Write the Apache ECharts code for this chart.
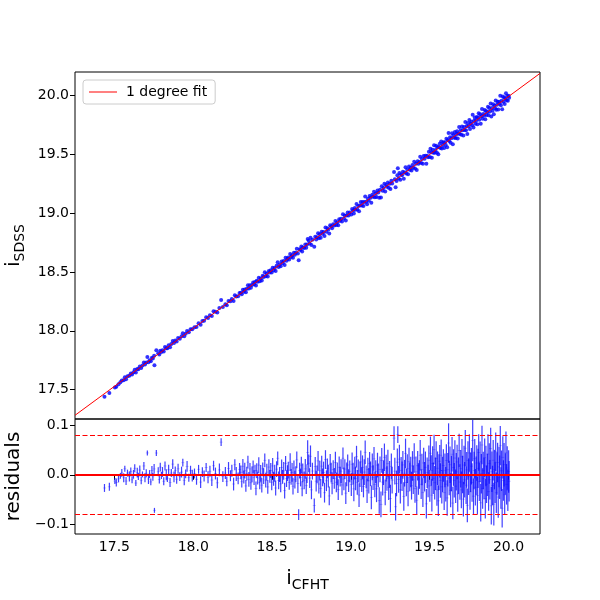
<!DOCTYPE html>
<html>
<head>
<meta charset="utf-8">
<script src="https://cdn.jsdelivr.net/npm/echarts@6/dist/echarts.min.js"></script>
<style>
html,body{margin:0;padding:0;background:#fff;}
#chart{width:600px;height:600px;}
</style>
</head>
<body>
<div id="chart"></div>
<script>
const iCFHT = [
17.437,17.468,
17.503,17.512,17.526,17.538,17.547,17.559,17.566,17.574,17.583,17.595,
17.604,17.612,17.621,17.629,17.636,17.645,17.652,17.661,17.670,17.678,17.687,17.694,
17.702,17.709,17.716,17.723,17.731,17.738,17.744,17.752,17.766,17.754,17.778,17.785,17.791,17.798,
17.805,17.813,17.821,17.829,17.836,17.844,17.853,17.861,17.870,17.878,17.886,17.895,
17.904,17.915,17.926,17.934,17.943,17.952,17.961,17.972,17.983,17.994,
18.008,18.021,18.034,18.047,18.058,18.069,18.082,18.094,
18.106,18.118,18.129,18.141,18.153,18.166,18.177,18.188,
18.204,18.213,18.224,18.236,18.245,18.256,18.264,18.273,18.285,18.294,
18.302,18.308,18.315,18.321,18.327,18.334,18.340,18.347,18.353,18.360,18.366,18.373,18.380,18.386,18.392,18.398,
18.403,18.409,18.416,18.422,18.428,18.435,18.441,18.447,18.454,18.460,18.467,18.473,18.480,18.486,18.492,18.498,
18.504,18.510,18.517,18.523,18.529,18.536,18.542,18.548,18.555,18.561,18.567,18.574,18.580,18.586,18.592,18.598,
18.603,18.609,18.615,18.621,18.627,18.633,18.639,18.645,18.651,18.657,18.664,18.669,18.675,18.681,18.686,18.691,18.695,
18.704,18.711,18.717,18.722,18.726,18.733,18.739,18.744,18.750,18.756,18.768,18.774,18.780,18.786,18.792,18.797,
18.803,18.809,18.815,18.821,18.827,18.833,18.839,18.845,18.851,18.857,18.863,18.869,18.875,18.881,18.888,18.895,
18.902,18.908,18.914,18.920,18.926,18.932,18.938,18.944,18.950,18.956,18.962,18.968,18.974,18.980,18.986,18.993,
19.003,19.008,19.014,19.019,19.025,19.030,19.036,19.041,19.047,19.052,19.058,19.063,19.069,19.074,19.080,19.085,19.091,19.097,
19.103,19.108,19.114,19.119,19.125,19.130,19.136,19.141,19.147,19.152,19.158,19.163,19.169,19.174,19.180,19.185,19.191,19.196,
19.202,19.207,19.213,19.218,19.224,19.229,19.235,19.240,19.246,19.251,19.257,19.262,19.274,19.279,19.284,19.290,19.295,19.298,
19.303,19.308,19.314,19.319,19.325,19.330,19.336,19.341,19.347,19.352,19.358,19.363,19.369,19.374,19.380,19.385,19.391,19.396,
19.402,19.407,19.413,19.418,19.424,19.429,19.435,19.440,19.446,19.451,19.457,19.462,19.468,19.473,19.479,19.484,19.490,19.495,
19.501,19.505,19.510,19.514,19.519,19.523,19.528,19.532,19.537,19.541,19.546,19.550,19.555,19.559,19.564,19.568,19.573,19.577,19.582,19.587,19.592,19.597,
19.602,19.606,19.611,19.615,19.620,19.624,19.629,19.633,19.638,19.642,19.647,19.651,19.656,19.660,19.665,19.669,19.674,19.678,19.683,19.687,19.692,19.697,
19.701,19.705,19.709,19.714,19.718,19.722,19.726,19.731,19.735,19.739,19.743,19.747,19.752,19.756,19.760,19.765,19.769,19.773,19.778,19.782,19.786,19.790,19.795,19.799,
19.803,19.807,19.811,19.815,19.820,19.824,19.828,19.832,19.836,19.840,19.845,19.849,19.853,19.857,19.861,19.866,19.870,19.874,19.878,19.882,19.887,19.891,19.895,19.899,
19.903,19.907,19.911,19.915,19.919,19.923,19.927,19.931,19.935,19.940,19.944,19.948,19.952,19.956,19.960,19.964,19.968,19.972,19.976,19.980,19.984,19.988,19.992,19.996,
20.001,20.004
];
const iSDSS = [
17.439,17.472,
17.518,17.524,17.545,17.563,17.578,17.580,17.605,17.588,17.613,17.618,
17.637,17.628,17.648,17.668,17.645,17.675,17.674,17.696,17.684,17.704,17.730,17.713,
17.730,17.778,17.732,17.749,17.741,17.771,17.764,17.788,17.834,17.706,17.808,17.799,17.830,17.820,
17.834,17.823,17.862,17.852,17.852,17.877,17.860,17.887,17.914,17.896,17.917,17.908,
17.938,17.933,17.953,17.980,17.953,17.975,17.999,17.987,18.012,18.013,
18.031,18.032,18.065,18.052,18.083,18.086,18.116,18.108,
18.132,18.126,18.166,18.162,18.155,18.194,18.261,18.202,
18.225,18.217,18.254,18.251,18.270,18.254,18.301,18.291,18.294,18.321,
18.323,18.310,18.348,18.332,18.351,18.327,18.358,18.388,18.359,18.387,18.365,18.389,18.411,18.395,18.415,18.385,
18.426,18.417,18.450,18.421,18.445,18.428,18.467,18.458,18.497,18.463,18.486,18.462,18.509,18.496,18.514,18.496,
18.535,18.515,18.533,18.509,18.553,18.582,18.543,18.561,18.549,18.588,18.575,18.594,18.560,18.621,18.596,18.613,
18.624,18.605,18.652,18.628,18.643,18.621,18.664,18.646,18.663,18.698,18.657,18.599,18.694,18.686,18.716,18.673,18.709,
18.703,18.733,18.705,18.734,18.781,18.766,18.742,18.791,18.729,18.773,18.715,18.800,18.776,18.796,18.829,18.787,
18.820,18.790,18.841,18.824,18.840,18.805,18.878,18.841,18.872,18.862,18.828,18.898,18.887,18.871,18.906,18.895,
18.934,18.900,18.923,18.897,18.948,18.935,18.952,18.930,18.990,18.954,18.980,18.937,18.981,19.006,18.980,19.006,
18.989,19.035,19.022,18.996,19.044,19.028,19.078,19.031,19.060,19.016,19.064,19.094,19.064,19.094,19.061,19.095,19.141,19.097,
19.075,19.123,19.106,19.146,19.131,19.088,19.156,19.139,19.183,19.136,19.168,19.138,19.192,19.176,19.131,19.199,19.134,19.228,
19.190,19.214,19.251,19.185,19.240,19.224,19.260,19.217,19.249,19.205,19.276,19.253,19.350,19.288,19.221,19.274,19.322,19.381,
19.295,19.341,19.285,19.329,19.323,19.351,19.293,19.345,19.391,19.337,19.371,19.330,19.396,19.370,19.386,19.363,19.409,19.386,
19.436,19.379,19.419,19.366,19.442,19.420,19.435,19.479,19.426,19.461,19.420,19.485,19.463,19.487,19.419,19.487,19.476,19.523,
19.477,19.547,19.517,19.471,19.540,19.514,19.577,19.514,19.537,19.572,19.513,19.561,19.500,19.562,19.589,19.554,19.610,19.550,19.580,19.603,19.553,19.603,
19.580,19.632,19.561,19.622,19.681,19.614,19.646,19.598,19.637,19.680,19.586,19.662,19.641,19.690,19.638,19.671,19.696,19.635,19.677,19.732,19.673,19.705,
19.666,19.737,19.705,19.660,19.733,19.707,19.775,19.705,19.740,19.672,19.767,19.738,19.791,19.716,19.760,19.777,19.748,19.837,19.729,19.785,19.813,19.759,19.787,19.817,
19.755,19.814,19.850,19.795,19.840,19.761,19.824,19.886,19.802,19.842,19.831,19.877,19.798,19.868,19.835,19.859,19.905,19.833,19.894,19.865,19.933,19.821,19.894,19.870,
19.925,19.840,19.914,19.892,19.958,19.879,19.922,19.948,19.882,19.948,19.931,19.999,19.917,19.956,19.884,19.991,19.948,19.984,19.927,19.973,20.020,19.960,19.997,19.956,
19.999,19.982
];
const iErr = [
0.008,0.008,
0.006,0.008,0.007,0.006,0.008,0.009,0.006,0.008,0.007,0.010,
0.008,0.007,0.009,0.008,0.006,0.010,0.007,0.009,0.008,0.006,0.008,0.009,
0.008,0.005,0.010,0.008,0.007,0.009,0.008,0.010,0.006,0.005,0.009,0.008,0.009,0.007,
0.010,0.008,0.009,0.011,0.008,0.010,0.009,0.008,0.010,0.011,0.008,0.009,
0.010,0.009,0.011,0.008,0.010,0.009,0.011,0.008,0.010,0.012,
0.010,0.011,0.009,0.012,0.010,0.011,0.009,0.012,
0.011,0.012,0.010,0.012,0.011,0.013,0.008,0.011,
0.012,0.010,0.013,0.011,0.012,0.013,0.011,0.014,0.012,0.013,
0.014,0.012,0.015,0.013,0.016,0.012,0.014,0.013,0.015,0.012,0.014,0.016,0.013,0.015,0.012,0.014,
0.015,0.013,0.016,0.014,0.017,0.015,0.013,0.016,0.014,0.015,0.017,0.014,0.016,0.013,0.015,0.016,
0.016,0.014,0.017,0.015,0.016,0.014,0.018,0.015,0.017,0.016,0.014,0.018,0.016,0.015,0.017,0.016,
0.017,0.015,0.018,0.016,0.019,0.017,0.015,0.018,0.016,0.017,0.019,0.011,0.016,0.018,0.017,0.015,0.019,
0.018,0.020,0.017,0.019,0.025,0.018,0.020,0.022,0.019,0.017,0.014,0.019,0.021,0.018,0.020,0.019,
0.020,0.019,0.021,0.018,0.022,0.020,0.019,0.021,0.020,0.023,0.019,0.021,0.020,0.022,0.019,0.021,
0.022,0.020,0.023,0.021,0.022,0.020,0.024,0.021,0.022,0.023,0.020,0.022,0.024,0.021,0.023,0.022,
0.023,0.024,0.022,0.025,0.023,0.024,0.022,0.025,0.023,0.024,0.026,0.023,0.025,0.024,0.022,0.026,0.024,0.023,
0.025,0.024,0.026,0.023,0.025,0.024,0.027,0.025,0.024,0.026,0.023,0.027,0.025,0.024,0.027,0.026,0.026,0.025,
0.027,0.025,0.028,0.026,0.027,0.025,0.028,0.026,0.027,0.028,0.026,0.027,0.024,0.027,0.028,0.026,0.028,0.017,
0.027,0.029,0.028,0.027,0.030,0.028,0.029,0.027,0.030,0.028,0.029,0.030,0.028,0.029,0.031,0.028,0.030,0.029,
0.030,0.029,0.031,0.028,0.030,0.032,0.029,0.031,0.030,0.032,0.029,0.031,0.030,0.032,0.030,0.031,0.033,0.030,
0.032,0.034,0.031,0.033,0.035,0.032,0.030,0.034,0.033,0.035,0.032,0.034,0.031,0.036,0.033,0.035,0.032,0.034,0.036,0.033,0.035,0.034,
0.035,0.033,0.036,0.034,0.040,0.035,0.037,0.034,0.036,0.035,0.033,0.037,0.035,0.036,0.034,0.038,0.035,0.036,0.037,0.034,0.036,0.038,
0.037,0.036,0.038,0.035,0.039,0.036,0.037,0.038,0.036,0.034,0.039,0.037,0.038,0.036,0.040,0.037,0.039,0.042,0.036,0.038,0.040,0.037,0.039,0.036,
0.038,0.040,0.037,0.039,0.041,0.038,0.040,0.039,0.041,0.038,0.042,0.039,0.040,0.041,0.038,0.043,0.040,0.039,0.041,0.040,0.042,0.038,0.041,0.040,
0.041,0.043,0.040,0.042,0.039,0.041,0.043,0.040,0.042,0.041,0.044,0.040,0.042,0.041,0.039,0.043,0.041,0.044,0.040,0.042,0.043,0.041,0.044,0.042,
0.043,0.041
];
const magTicks = [17.5, 18.0, 18.5, 19.0, 19.5, 20.0];
const residTicks = [-0.1, 0.0, 0.1];
const magRange = [17.25, 20.2];
const residRange = [-0.12, 0.113];
const residBand = 0.077;
const fitLabel = '1 degree fit';

// 1 degree least-squares fit
const n = iCFHT.length;
let mx = 0, my = 0;
for (let i = 0; i < n; i++) { mx += iCFHT[i]; my += iSDSS[i]; }
mx /= n; my /= n;
let sxx = 0, sxy = 0;
for (let i = 0; i < n; i++) { sxx += (iCFHT[i]-mx)*(iCFHT[i]-mx); sxy += (iCFHT[i]-mx)*(iSDSS[i]-my); }
const slope = sxy / sxx, intercept = my - slope * mx;
const fit = x => slope * x + intercept;

const scatterData = iCFHT.map((x, i) => [x, iSDSS[i]]);
const residData = iCFHT.map((x, i) => [x, iSDSS[i] - fit(x), iErr[i]]);
const fitData = magRange.map(x => [x, fit(x)]);

const FONT = 'DejaVu Sans';
const fmt = v => v.toFixed(1).replace('-', '\u2212');
const tickStyle = { show: true, inside: false, length: 5, lineStyle: { color: '#000', width: 1 } };

const chart = echarts.init(document.getElementById('chart'), null, { renderer: 'canvas' });
chart.setOption({
  animation: false,
  backgroundColor: '#fff',
  textStyle: { fontFamily: FONT },
  grid: [
    { left: 75, right: 60, top: 72, height: 347, show: true, borderColor: '#000', borderWidth: 1,
      backgroundColor: 'transparent', containLabel: false, outerBoundsMode: 'none' },
    { left: 75, right: 60, top: 419, height: 115, show: true, borderColor: '#000', borderWidth: 1,
      backgroundColor: 'transparent', containLabel: false, outerBoundsMode: 'none' }
  ],
  legend: {
    data: [{ name: fitLabel, icon: 'rect', itemStyle: { color: '#ff0000', opacity: 1 } }],
    left: 83, top: 80,
    padding: [5, 8, 5, 6],
    itemWidth: 28, itemHeight: 1,
    borderColor: '#cccccc', borderWidth: 1, borderRadius: 3,
    backgroundColor: 'rgba(255,255,255,0.8)',
    textStyle: { fontFamily: FONT, fontSize: 14, color: '#000', padding: [0, 0, 0, 4], lineHeight: 14 }
  },
  xAxis: [
    { type: 'value', gridIndex: 0, min: magRange[0], max: magRange[1],
      axisLine: { show: false }, axisTick: { show: false }, axisLabel: { show: false }, splitLine: { show: false } },
    { type: 'value', gridIndex: 1, min: magRange[0], max: magRange[1],
      axisLine: { show: false },
      axisTick: Object.assign({ customValues: magTicks }, tickStyle),
      axisLabel: { customValues: magTicks, formatter: fmt, fontFamily: FONT, fontSize: 14, color: '#000', margin: 6 },
      splitLine: { show: false },
      name: '{a|i}{b|CFHT}', nameLocation: 'middle', nameGap: 32,
      nameTextStyle: { fontFamily: FONT, color: '#000',
        rich: { a: { fontFamily: FONT, fontSize: 20, color: '#000' },
                b: { fontFamily: FONT, fontSize: 14, color: '#000', padding: [12, 0, 0, 0] } } } }
  ],
  yAxis: [
    { type: 'value', gridIndex: 0, min: magRange[0], max: magRange[1],
      axisLine: { show: false },
      axisTick: Object.assign({ customValues: magTicks }, tickStyle),
      axisLabel: { customValues: magTicks, formatter: fmt, fontFamily: FONT, fontSize: 14, color: '#000', margin: 6 },
      splitLine: { show: false },
      name: '{a|i}{b|SDSS}', nameLocation: 'middle', nameGap: 48, nameRotate: 90,
      nameTextStyle: { fontFamily: FONT, color: '#000',
        rich: { a: { fontFamily: FONT, fontSize: 20, color: '#000' },
                b: { fontFamily: FONT, fontSize: 14, color: '#000', padding: [12, 0, 0, 0] } } } },
    { type: 'value', gridIndex: 1, min: residRange[0], max: residRange[1],
      axisLine: { show: false },
      axisTick: Object.assign({ customValues: residTicks }, tickStyle),
      axisLabel: { customValues: residTicks, formatter: fmt, fontFamily: FONT, fontSize: 14, color: '#000', margin: 6 },
      splitLine: { show: false },
      name: 'residuals', nameLocation: 'middle', nameGap: 47, nameRotate: 90,
      nameTextStyle: { fontFamily: FONT, fontSize: 20, color: '#000' } }
  ],
  series: [
    { type: 'scatter', xAxisIndex: 0, yAxisIndex: 0, data: scatterData,
      symbol: 'circle', symbolSize: 4, itemStyle: { color: '#0000ff' }, z: 2, silent: true },
    { type: 'line', name: fitLabel, xAxisIndex: 0, yAxisIndex: 0, data: fitData,
      symbol: 'none', lineStyle: { color: '#ff0000', width: 1 }, itemStyle: { color: '#ff0000' }, z: 3, silent: true },
    { type: 'custom', xAxisIndex: 1, yAxisIndex: 1, data: residData, clip: true, silent: true, z: 2,
      encode: { x: 0, y: 1 },
      renderItem: function (params, api) {
        const x = api.value(0), r = api.value(1), e = api.value(2);
        const lo = api.coord([x, r - e]);
        const hi = api.coord([x, r + e]);
        const c = api.coord([x, r]);
        return { type: 'group', children: [
          { type: 'line', shape: { x1: lo[0], y1: lo[1], x2: hi[0], y2: hi[1] },
            style: { stroke: 'rgba(0,0,255,0.75)', lineWidth: 1.2 } },
          { type: 'line', shape: { x1: c[0] - 1.5, y1: c[1], x2: c[0] + 1.5, y2: c[1] },
            style: { stroke: 'rgba(0,0,255,0.3)', lineWidth: 0.8 } }
        ] };
      }
    },
    { type: 'line', xAxisIndex: 1, yAxisIndex: 1, data: [], z: 4, silent: true,
      markLine: { silent: true, symbol: 'none', label: { show: false }, animation: false,
        data: [
          { yAxis: 0, lineStyle: { color: '#ff0000', width: 2, type: 'solid' } },
          { yAxis: residBand, lineStyle: { color: '#ff0000', width: 1.1, type: [5, 2.5] } },
          { yAxis: -residBand, lineStyle: { color: '#ff0000', width: 1.1, type: [5, 2.5] } }
        ] } }
  ]
});
</script>
</body>
</html>
